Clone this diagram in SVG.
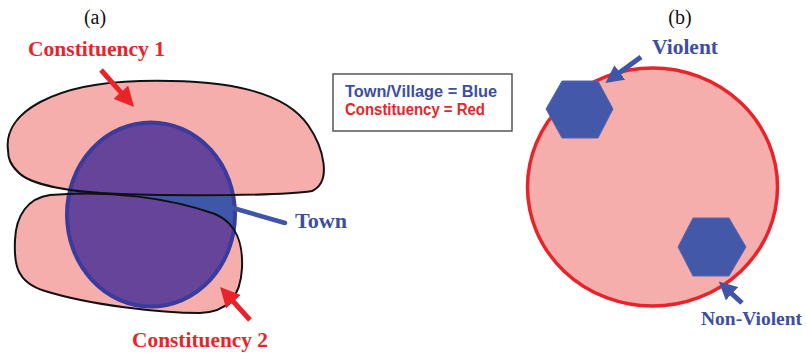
<svg xmlns="http://www.w3.org/2000/svg" width="807" height="353" viewBox="0 0 807 353">
<style>
.bg{fill:#ffffff}
.pink{fill:#f5aeab}
.outline{fill:none;stroke:#111111;stroke-width:2}
.lbl{font-family:"Liberation Serif","Times New Roman",serif;font-weight:bold;font-size:21.5px}
.cap{font-family:"Liberation Serif","Times New Roman",serif;font-size:20px;fill:#111}
.red{fill:#e8242a}
.blue{fill:#3d4ea2}
.legend{font-family:"Liberation Sans",Arial,sans-serif;font-weight:bold;font-size:16px}
.arrR{stroke:#e8242a;stroke-width:5;fill:none}
.arrB{stroke:#3f55a8;stroke-width:5;fill:none}
.hex{fill:#4358a8;stroke:#5567b4;stroke-width:1}
</style>
<defs>
<marker id="headR" viewBox="0 0 20 20" markerWidth="20" markerHeight="20" markerUnits="userSpaceOnUse" refX="4" refY="10" orient="auto">
<path d="M0,0 L20,10 L0,20 Z" fill="#e8242a"/>
</marker>
<marker id="headB" viewBox="0 0 20 20" markerWidth="18" markerHeight="18" markerUnits="userSpaceOnUse" refX="4" refY="10" orient="auto">
<path d="M0,0 L20,10 L0,20 Z" fill="#3f55a8"/>
</marker>
<path id="c1shape" d="M8,150 C3,112 55,83 140,81 C230,79 285,92 308,125 C324,148 332,182 312,191 C280,196 180,196 120,194 C70,192 30,185 18,172 C10,164 8,158 8,150 Z"/>
<path id="c2shape" d="M50,195 C110,190 170,198 215,214 C238,224 243,245 242,268 C241,290 232,312 200,313 C160,313 90,305 45,291 C15,282 14,262 15,240 C16,215 28,198 50,195 Z"/>
<clipPath id="townClip"><ellipse cx="151" cy="214.5" rx="84" ry="92"/></clipPath>
</defs>
<rect class="bg" x="0" y="0" width="807" height="353"/>

<text class="cap" x="95" y="24" text-anchor="middle">(a)</text>
<text class="cap" x="680" y="24" text-anchor="middle">(b)</text>

<g id="constituency1">
<use href="#c1shape" class="pink"/>
</g>
<g id="constituency2">
<use href="#c2shape" class="pink"/>
</g>
<g id="town">
<ellipse cx="151" cy="214.5" rx="84" ry="92" fill="#3f57a9"/>
<g clip-path="url(#townClip)" fill="#66449a">
<use href="#c1shape"/>
<use href="#c2shape"/>
</g>
<ellipse cx="151" cy="214.5" rx="84" ry="92" fill="none" stroke="#3b3b9e" stroke-width="4"/>
</g>
<g id="outlines">
<use href="#c1shape" class="outline"/>
<use href="#c2shape" class="outline"/>
</g>

<g id="legend">
<rect x="333" y="74" width="179" height="57" fill="#fff" stroke="#555" stroke-width="1.5"/>
<text class="legend blue" x="345" y="97" textLength="152" lengthAdjust="spacingAndGlyphs">Town/Village = Blue</text>
<text class="legend red" x="345" y="115" textLength="140" lengthAdjust="spacingAndGlyphs">Constituency = Red</text>
</g>

<g id="region">
<ellipse cx="652.5" cy="187" rx="125" ry="119" fill="#f5aeab" stroke="#e8242a" stroke-width="3.5"/>
</g>
<g id="violent">
<polygon class="hex" points="546,109 562,81 598,81 613,109 598,138 562,138"/>
</g>
<g id="nonviolent">
<polygon class="hex" points="678,247 693,218 729,218 746,247 729,276 693,276"/>
</g>

<g id="connectors">
<line class="arrR" x1="101" y1="70" x2="123.4" y2="95.1" marker-end="url(#headR)"/>
<line class="arrR" x1="250" y1="320" x2="230.8" y2="298.8" marker-end="url(#headR)"/>
<line x1="233" y1="208" x2="285" y2="223" stroke="#3f55a8" stroke-width="4.5" stroke-linecap="round"/>
<line class="arrB" x1="641" y1="57" x2="616.9" y2="74.6" marker-end="url(#headB)"/>
<line class="arrB" x1="742" y1="303" x2="729.3" y2="291.3" marker-end="url(#headB)"/>
</g>

<g id="labels">
<text class="lbl red" x="28" y="56" textLength="137" lengthAdjust="spacingAndGlyphs">Constituency 1</text>
<text class="lbl red" x="132" y="347" textLength="136" lengthAdjust="spacingAndGlyphs">Constituency 2</text>
<text class="lbl blue" x="295" y="228" textLength="52" lengthAdjust="spacingAndGlyphs">Town</text>
<text class="lbl blue" x="652" y="54" textLength="66" lengthAdjust="spacingAndGlyphs">Violent</text>
<text class="lbl blue" x="701" y="325" style="font-size:19.5px">Non-Violent</text>
</g>
</svg>
